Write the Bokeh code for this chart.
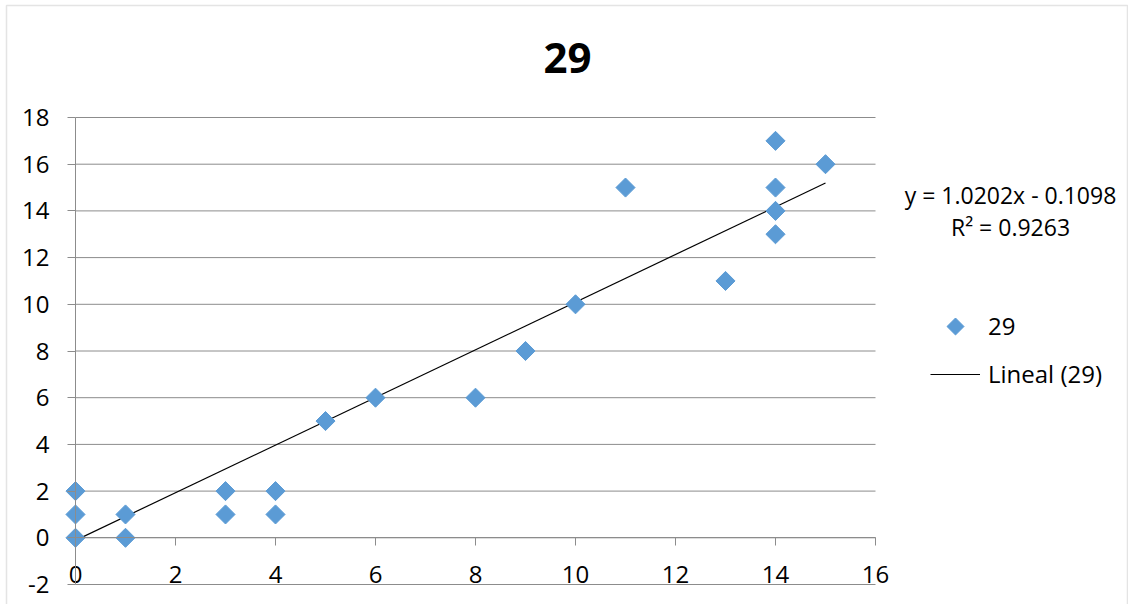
import numpy as np
from bokeh.plotting import figure
from bokeh.models import Range1d, FixedTicker, Label, Legend, LegendItem, BoxAnnotation
from bokeh.embed import file_html
from bokeh.resources import INLINE

# ---- data ----
x_vals = [0, 0, 0, 1, 1, 3, 3, 4, 4, 5, 6, 8, 9, 10, 11, 13, 14, 14, 14, 14, 15]
y_vals = [0, 1, 2, 0, 1, 1, 2, 1, 2, 5, 6, 6, 8, 10, 15, 11, 13, 14, 15, 17, 16]
series_name = "29"
trend_name = "Lineal (29)"
trend_slope = 1.0202
trend_intercept = -0.1098
r_squared = 0.9263
x_ticks = [0, 2, 4, 6, 8, 10, 12, 14, 16]
y_ticks = [-2, 0, 2, 4, 6, 8, 10, 12, 14, 16, 18]

FONT = "Open Sans"
GRID = "#8c8c8c"
BLUE = "#5B9BD5"

W, H = 1128, 604
# plot area in canvas pixels
PL, PR, PT, PB = 75, 875, 117, 584
xmin, xmax = x_ticks[0], x_ticks[-1]
ymin, ymax = y_ticks[0], y_ticks[-1]
sx = (PR - PL) / (xmax - xmin)
sy = (PB - PT) / (ymax - ymin)

def to_data(px, py):
    """canvas pixel -> data coordinates (for legend decoration only)"""
    return xmin + (px - PL) / sx, ymax - (py - PT) / sy

p = figure(width=W, height=H, output_backend="svg", toolbar_location=None,
           x_range=Range1d(xmin - PL / sx, xmax + (W - PR) / sx),
           y_range=Range1d(ymin - (H - PB) / sy, ymax + PT / sy),
           min_border=0)
p.outline_line_color = None
p.background_fill_color = "white"
p.border_fill_color = "white"
p.xgrid.visible = False
p.ygrid.visible = False

# chart border
p.add_layout(BoxAnnotation(left=6, right=1127, top=H - 5, bottom=-20,
                           left_units="screen", right_units="screen",
                           top_units="screen", bottom_units="screen",
                           fill_alpha=0, line_color="#a6a6a6", line_width=1.5))

# horizontal gridlines
n = len(y_ticks)
p.segment(x0=[xmin] * n, x1=[xmax] * n, y0=y_ticks, y1=y_ticks,
          line_color=GRID, line_width=1)

# y axis at x = 0
p.yaxis.fixed_location = 0
p.yaxis.bounds = (ymin, ymax)
p.yaxis.ticker = FixedTicker(ticks=y_ticks)
p.yaxis.axis_line_color = GRID
p.yaxis.major_tick_line_color = GRID
p.yaxis.major_tick_out = 8
p.yaxis.major_tick_in = 0
p.yaxis.minor_tick_line_color = None
p.yaxis.major_label_text_font = FONT
p.yaxis.major_label_text_font_size = "24px"
p.yaxis.major_label_text_color = "black"
p.yaxis.major_label_standoff = 18
p.yaxis.major_label_overrides = {t: str(t) for t in y_ticks}

# x axis at y = 0
p.xaxis.fixed_location = 0
p.xaxis.bounds = (xmin, xmax)
p.xaxis.ticker = FixedTicker(ticks=x_ticks)
p.xaxis.axis_line_color = GRID
p.xaxis.major_tick_line_color = GRID
p.xaxis.major_tick_out = 8
p.xaxis.major_tick_in = 0
p.xaxis.minor_tick_line_color = None
p.xaxis.major_label_text_font = FONT
p.xaxis.major_label_text_font_size = "24px"
p.xaxis.major_label_text_color = "black"
p.xaxis.major_label_standoff = 20

# trendline
x0, x1 = min(x_vals), max(x_vals)
tl = p.line([x0, x1], [trend_slope * x0 + trend_intercept, trend_slope * x1 + trend_intercept],
            line_color="black", line_width=1.2)

# scatter
sc = p.scatter(x_vals, y_vals, marker="square", size=13.5, angle=np.pi / 4,
               fill_color=BLUE, line_color=BLUE)

# legend (marker sample drawn as rotated square over an invisible proxy)
proxy = p.scatter([], [], marker="square", fill_alpha=0, line_alpha=0)
legend = Legend(items=[LegendItem(label=series_name, renderers=[proxy]),
                       LegendItem(label=trend_name, renderers=[tl])],
                location=(930, H - 390), padding=0, margin=0, spacing=15,
                glyph_width=50, glyph_height=30, label_height=30,
                label_standoff=8, border_line_color=None, background_fill_alpha=0,
                label_text_font=FONT, label_text_font_size="24px",
                label_text_color="black")
p.add_layout(legend, "center")
lx, ly = to_data(955, 326)
p.scatter([lx], [ly], marker="square", size=12, angle=np.pi / 4,
          fill_color=BLUE, line_color=BLUE)

# trendline equation
eq = f"y = {trend_slope:.4f}x - {abs(trend_intercept):.4f}"
r2 = f"R² = {r_squared:.4f}"
for txt, yy in [(eq, H - 194), (r2, H - 226)]:
    p.add_layout(Label(x=1010, y=yy, x_units="screen", y_units="screen", text=txt,
                       text_align="center", text_baseline="middle",
                       text_font=FONT, text_font_size="23px", text_color="black"))

# title
p.add_layout(Label(x=567, y=H - 57, x_units="screen", y_units="screen", text=series_name,
                   text_align="center", text_baseline="middle",
                   text_font=FONT, text_font_size="42px", text_font_style="bold",
                   text_color="black"))

open("out.html", "w").write(file_html(p, INLINE))
